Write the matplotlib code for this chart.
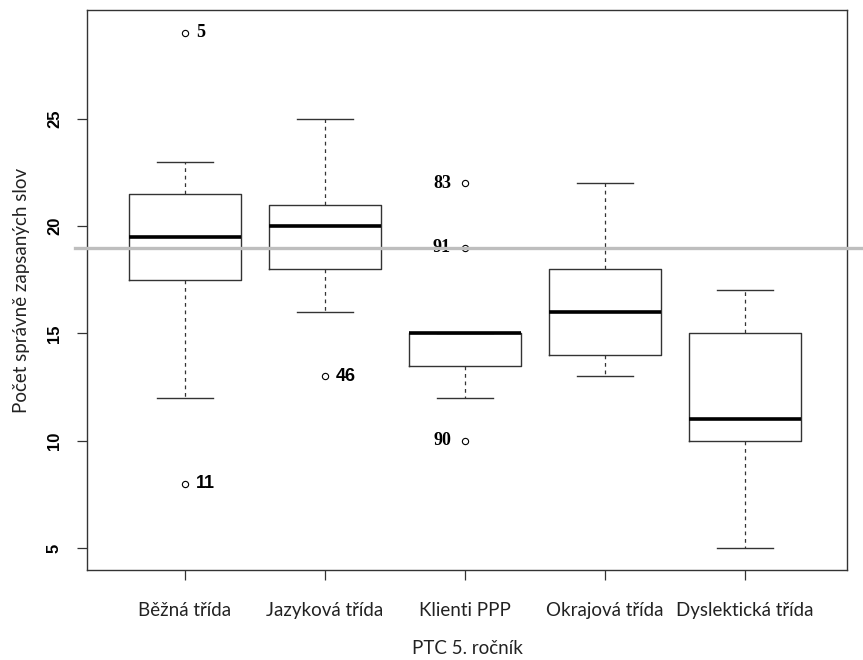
import matplotlib
matplotlib.use("Agg")
import matplotlib.pyplot as plt

# data
categories = ["Běžná třída", "Jazyková třída", "Klienti PPP", "Okrajová třída", "Dyslektická třída"]
whisker_lo = [12, 16, 12, 13, 5]
q1 = [17.5, 18, 13.5, 14, 10]
medians = [19.5, 20, 15, 16, 11]
q3 = [21.5, 21, 15, 18, 15]
whisker_hi = [23, 25, 15, 22, 17]
outliers = [[29, 8], [13], [22, 19, 10], [], []]
outlier_ids = [["5", "11"], ["46"], ["83", "91", "90"], [], []]
reference_value = 19
yticks = [5, 10, 15, 20, 25]

stats = []
for i, name in enumerate(categories):
    stats.append({
        "label": name,
        "whislo": whisker_lo[i], "q1": q1[i], "med": medians[i],
        "q3": q3[i], "whishi": whisker_hi[i], "fliers": outliers[i],
    })

fig = plt.figure(figsize=(8.63, 6.6), dpi=100)
ax = fig.add_axes([0.1008, 0.1364, 0.8807, 0.8484])

positions = list(range(1, len(categories) + 1))
ax.bxp(stats, positions=positions, widths=0.8, showfliers=True,
       boxprops=dict(color="#333333", linewidth=1.0),
       medianprops=dict(color="black", linewidth=2.6, solid_capstyle="butt"),
       whiskerprops=dict(color="#333333", linewidth=0.9, linestyle=(0, (3, 3))),
       capprops=dict(color="#333333", linewidth=1.0),
       capwidths=0.4,
       flierprops=dict(marker="o", markersize=4.5, markerfacecolor="white",
                       markeredgecolor="black", markeredgewidth=0.8))

# outlier labels (the first and the PPP ones are in a serif face)
for i, (vals, ids) in enumerate(zip(outliers, outlier_ids)):
    x = positions[i]
    for v, lab in zip(vals, ids):
        if i == 2:
            ax.text(x - 0.1, v, lab, ha="right", va="center", fontsize=13,
                    fontweight="bold", family="Liberation Serif")
        elif lab == "5":
            ax.text(x + 0.08, v, lab, ha="left", va="center", fontsize=13,
                    fontweight="bold", family="Liberation Serif")
        else:
            ax.text(x + 0.08, v, lab, ha="left", va="center", fontsize=13,
                    fontweight="bold", family="Liberation Sans")

ax.plot([-0.016, 1.021], [reference_value, reference_value], color="#bebebe",
        linewidth=2.4, transform=ax.get_yaxis_transform(), clip_on=False, zorder=5)

ax.set_xlim(0.3, 5.73)
ax.set_ylim(3.97, 30.07)
ax.set_yticks(yticks)
ax.set_yticklabels([str(t) for t in yticks], rotation=90, va="center",
                   fontsize=12, fontweight="bold", family="Liberation Sans")
ax.set_xticks(positions)
ax.set_xticklabels(categories, fontsize=13.5, family="Lato", color="#222222")
ax.tick_params(axis="both", length=7, width=0.9, color="#333333")
ax.tick_params(axis="x", pad=16)
ax.tick_params(axis="y", pad=11)
for s in ax.spines.values():
    s.set_linewidth(1.0)
    s.set_color("#333333")

ax.set_xlabel("PTC 5. ročník", fontsize=13.5, family="Lato", color="#222222", labelpad=15)
ax.set_ylabel("Počet správně zapsaných slov", fontsize=13.5, family="Lato",
              color="#222222", labelpad=12)

fig.savefig("out.png", dpi=100)
